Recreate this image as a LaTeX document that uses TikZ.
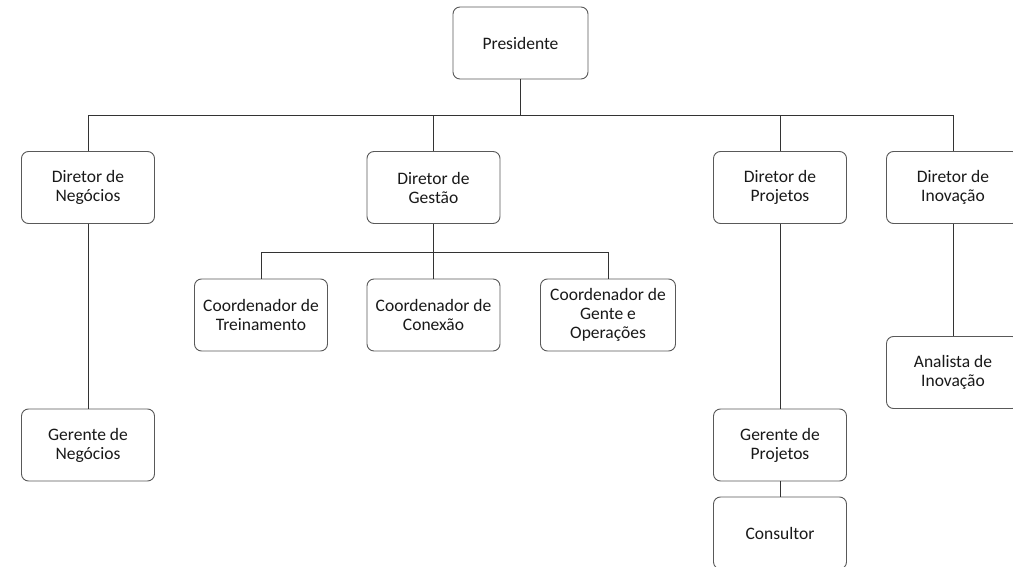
\documentclass[tikz,border=0pt]{standalone}
\usepackage{fontspec}
\setmainfont{Carlito}
\begin{document}
\begin{tikzpicture}[x=1pt,y=-1pt,
  box/.style={draw=black!65,line width=0.9pt,rounded corners=7pt,fill=white,
    minimum width=133pt,minimum height=72pt,align=center,inner sep=2pt,
    font=\fontsize{17.5}{19}\selectfont,text=black!90},
  link/.style={draw=black!80,line width=0.9pt}]
\useasboundingbox (0,0) rectangle (1013,567);
\node[box,minimum width=135pt] (pres) at (520.5,43) {Presidente};
\node[box] (dn) at (88,187.5) {Diretor de\\Negócios};
\node[box] (dg) at (433.5,187.5) {Diretor de\\Gestão};
\node[box] (dp) at (780,187.5) {Diretor de\\Projetos};
\node[box] (di) at (953,187.5) {Diretor de\\Inovação};
\node[box] (ct) at (261,315) {Coordenador de\\Treinamento};
\node[box] (cc) at (433.5,315) {Coordenador de\\Conexão};
\node[box,minimum width=135pt] (cg) at (608,315) {Coordenador de\\Gente e\\Operações};
\node[box] (gn) at (88,445) {Gerente de\\Negócios};
\node[box] (ai) at (953,372.5) {Analista de\\Inovação};
\node[box] (gp) at (780,445) {Gerente de\\Projetos};
\node[box] (cs) at (780,533) {Consultor};
\coordinate (b1) at (0,115);
\coordinate (b2) at (0,252);
\draw[link] (pres.south) -- (pres.south |- b1);
\draw[link] (dn.north) -- (dn.north |- b1) -- (di.north |- b1) -- (di.north);
\draw[link] (dg.north) -- (dg.north |- b1);
\draw[link] (dp.north) -- (dp.north |- b1);
\draw[link] (dg.south) -- (cc.north);
\draw[link] (ct.north) -- (ct.north |- b2) -- (cg.north |- b2) -- (cg.north);
\draw[link] (dn.south) -- (gn.north);
\draw[link] (dp.south) -- (gp.north);
\draw[link] (di.south) -- (ai.north);
\draw[link] (gp.south) -- (cs.north);
\end{tikzpicture}
\end{document}
